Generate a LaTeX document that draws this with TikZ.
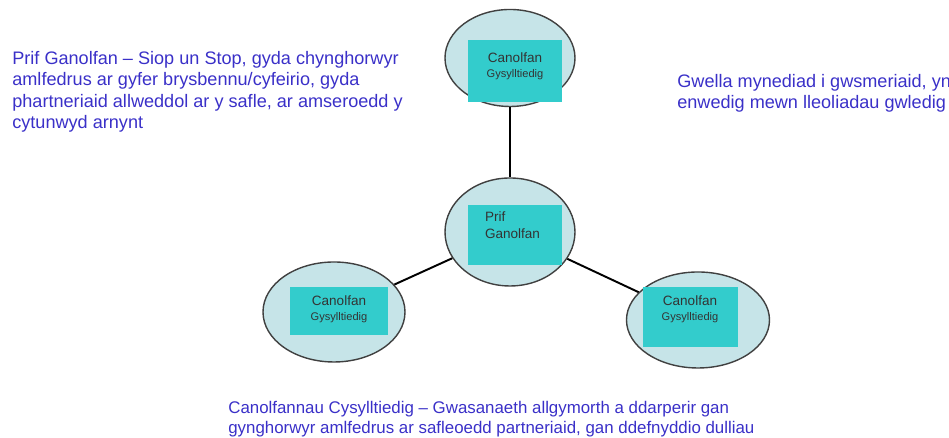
\documentclass[tikz,border=0pt]{standalone}
\usepackage{fontspec}
\setmainfont{Liberation Sans}
\usetikzlibrary{shapes.geometric,positioning}
\definecolor{hubfill}{RGB}{198,228,232}
\definecolor{boxfill}{RGB}{51,204,204}
\definecolor{notetext}{RGB}{58,48,200}
\begin{document}
\begin{tikzpicture}[hub/.style={draw=black!75, line width=0.8pt, ellipse, fill=hubfill, inner sep=0pt},
  tealbox/.style={fill=boxfill, inner sep=0pt},
  boxtext/.style={inner sep=0pt, align=center, text=black!80, font=\fontsize{7.7}{9.5}\selectfont},
  note/.style={inner sep=0pt, anchor=base west, align=left, text=notetext, font=\fontsize{10.3}{12.3}\selectfont}]
\useasboundingbox (0,0) rectangle (18.98,8.76);
% canolfannau
\node[hub, minimum width=2.6cm, minimum height=1.94cm] (top) at (10.2,7.6) {};
\node[hub, minimum width=2.6cm, minimum height=2.16cm] (main) at (10.2,4.12) {};
\node[hub, minimum width=2.84cm, minimum height=2.0cm] (left) at (6.68,2.52) {};
\node[hub, minimum width=2.86cm, minimum height=1.92cm] (right) at (13.96,2.36) {};
\node[tealbox, minimum width=1.88cm, minimum height=1.24cm] (topbox) at (10.3,7.34) {};
\node[tealbox, minimum width=1.88cm, minimum height=1.2cm] (mainbox) at (10.3,4.06) {};
\node[tealbox, minimum width=1.96cm, minimum height=0.96cm] (leftbox) at (6.78,2.54) {};
\node[tealbox, minimum width=1.9cm, minimum height=1.2cm] (rightbox) at (13.8,2.42) {};
\node[boxtext, below=0.26cm of topbox.north] (toptext) {Canolfan\\[-1pt]{\fontsize{6.3}{7}\selectfont Gysylltiedig}};
\node[boxtext, align=left, anchor=north west] (maintext) at ([xshift=0.34cm, yshift=-0.14cm]mainbox.north west) {Prif\\Ganolfan};
\node[boxtext, below=0.18cm of leftbox.north] (lefttext) {Canolfan\\[-1pt]{\fontsize{6.3}{7}\selectfont Gysylltiedig}};
\node[boxtext, below=0.18cm of rightbox.north] (righttext) {Canolfan\\[-1pt]{\fontsize{6.3}{7}\selectfont Gysylltiedig}};
\draw[line width=1.1pt] (top) -- (main);
\draw[line width=1.1pt] (main) -- (left);
\draw[line width=1.1pt] (main) -- (right);
% nodiadau
\node[note] (mainnote) at (0.24,6.18) {Prif Ganolfan – Siop un Stop, gyda chynghorwyr\\amlfedrus ar gyfer brysbennu/cyfeirio, gyda\\phartneriaid allweddol ar y safle, ar amseroedd y\\cytunwyd arnynt};
\node[note] (accessnote) at (13.54,6.58) {Gwella mynediad i gwsmeriaid, yn\\enwedig mewn lleoliadau gwledig};
\node[note, font=\fontsize{9.6}{11.4}\selectfont] (outreachnote) at (4.56,0.08) {Canolfannau Cysylltiedig – Gwasanaeth allgymorth a ddarperir gan\\gynghorwyr amlfedrus ar safleoedd partneriaid, gan ddefnyddio dulliau};
\end{tikzpicture}
\end{document}
